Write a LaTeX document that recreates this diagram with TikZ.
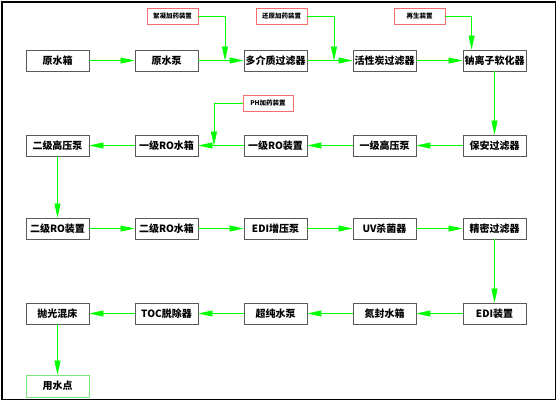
\documentclass[tikz,border=0pt]{standalone}
\usepackage{fontspec}
\setmainfont{Liberation Serif}
\newfontfamily\cjk{Noto Sans CJK SC}
\usetikzlibrary{arrows.meta,shadows}
\definecolor{lg}{RGB}{0,255,0}
\definecolor{rb}{RGB}{240,110,110}
\definecolor{gb}{RGB}{120,230,120}
\tikzset{
  mainbox/.style={draw=black!65, line width=0.8pt, fill=white, minimum width=63pt, minimum height=21pt, inner sep=0pt, font=\cjk\bfseries\fontsize{10}{10}\selectfont,
    drop shadow={shadow xshift=0.9pt, shadow yshift=-0.9pt, fill=black!40, opacity=1}},
  smallbox/.style={draw=rb, line width=0.8pt, fill=white, minimum width=51pt, minimum height=16pt, inner sep=0pt, font=\cjk\bfseries\fontsize{6.5}{6.5}\selectfont},
  endbox/.style={draw=gb, line width=0.8pt, fill=white, minimum width=63pt, minimum height=22pt, inner sep=0pt, font=\cjk\bfseries\fontsize{10}{10}\selectfont},
  arr/.style={draw=lg, line width=0.6pt, -{Triangle[length=14pt,width=6pt]}, color=lg},
  ln/.style={draw=lg, line width=0.6pt}
}
\begin{document}
\begin{tikzpicture}[x=1pt,y=-1pt]
\useasboundingbox (0,0) rectangle (558,402);
\draw[line width=1.2pt] (2,2) rectangle (555.5,399.5);
% row 1
\node[mainbox] (ysx) at (57.5,60.5) {原水箱};
\node[mainbox] (ysb) at (166.5,60.5) {原水泵};
\node[mainbox] (djz) at (275.5,60.5) {多介质过滤器};
\node[mainbox] (hxt) at (384.5,60.5) {活性炭过滤器};
\node[mainbox] (nlz) at (494.5,60.5) {钠离子软化器};
% small boxes
\node[smallbox] (xn) at (172.5,16) {絮凝加药装置};
\node[smallbox] (hy) at (281.5,16) {还原加药装置};
\node[smallbox] (zs) at (419.5,16) {再生装置};
\node[smallbox, minimum width=50pt] (ph) at (268,103) {PH加药装置};
% row 2
\node[mainbox] (ejgy) at (57.5,145.5) {二级高压泵};
\node[mainbox] (yjsx) at (166.5,145.5) {一级RO水箱};
\node[mainbox] (yjzz) at (275.5,145.5) {一级RO装置};
\node[mainbox] (yjgy) at (384.5,145.5) {一级高压泵};
\node[mainbox] (ba) at (494.5,145.5) {保安过滤器};
% row 3
\node[mainbox] (ejzz) at (57.5,228.5) {二级RO装置};
\node[mainbox] (ejsx) at (166.5,228.5) {二级RO水箱};
\node[mainbox] (edib) at (275.5,228.5) {EDI增压泵};
\node[mainbox] (uv) at (384.5,228.5) {UV杀菌器};
\node[mainbox] (jm) at (494.5,228.5) {精密过滤器};
% row 4
\node[mainbox] (pg) at (57.5,313.5) {抛光混床};
\node[mainbox] (toc) at (166.5,313.5) {TOC脱除器};
\node[mainbox] (cc) at (275.5,313.5) {超纯水泵};
\node[mainbox] (df) at (384.5,313.5) {氮封水箱};
\node[mainbox] (edi) at (494.5,313.5) {EDI装置};
% row 5
\node[endbox] (ysd) at (57.5,386) {用水点};
% junctions
\coordinate (j1) at (225,60.5);
\coordinate (j2) at (334,60.5);
\coordinate (j4) at (214,145.5);
% connectors row 1
\draw[arr] (ysx.east) -- (ysb.west);
\draw[arr] (ysb.east) -- (djz.west);
\draw[arr] (djz.east) -- (hxt.west);
\draw[arr] (hxt.east) -- (nlz.west);
\draw[arr] (xn.east) -| (j1);
\draw[arr] (hy.east) -| (j2);
\draw[arr] (zs.east) -| ([xshift=9pt]nlz.north west);
\draw[arr] (nlz.south) -- (ba.north);
% row 2
\draw[arr] (ba.west) -- (yjgy.east);
\draw[arr] (yjgy.west) -- (yjzz.east);
\draw[arr] (yjzz.west) -- (yjsx.east);
\draw[arr] (ph.west) -| (j4);
\draw[arr] (yjsx.west) -- (ejgy.east);
\draw[arr] (ejgy.south) -- (ejzz.north);
% row 3
\draw[arr] (ejzz.east) -- (ejsx.west);
\draw[arr] (ejsx.east) -- (edib.west);
\draw[arr] (edib.east) -- (uv.west);
\draw[arr] (uv.east) -- (jm.west);
\draw[arr] (jm.south) -- (edi.north);
% row 4
\draw[arr] (edi.west) -- (df.east);
\draw[arr] (df.west) -- (cc.east);
\draw[arr] (cc.west) -- (toc.east);
\draw[arr] (toc.west) -- (pg.east);
\draw[arr] (pg.south) -- (ysd.north);
\end{tikzpicture}
\end{document}
